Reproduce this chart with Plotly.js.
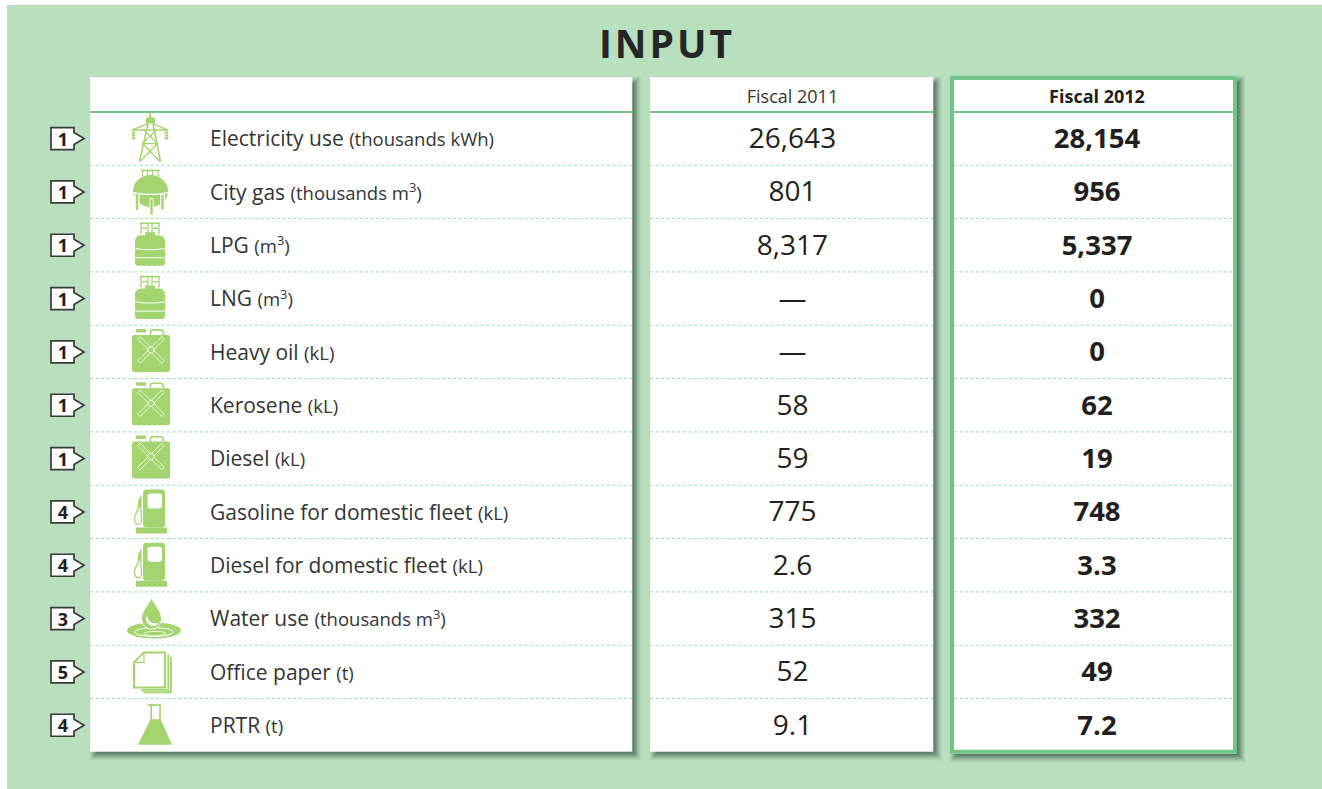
<!DOCTYPE html>
<html><head><meta charset="utf-8">
<script src="https://cdn.plot.ly/plotly-3.0.1.min.js"></script>
<style>html,body{margin:0;padding:0;background:#fff;overflow:hidden}.gtitle{letter-spacing:3px}</style>
</head><body><div id="chart" style="width:1322px;height:789px"></div>
<script>
const categories = ['Electricity use','City gas','LPG','LNG','Heavy oil','Kerosene','Diesel','Gasoline for domestic fleet','Diesel for domestic fleet','Water use','Office paper','PRTR'];
const units = ['(thousands kWh)','(thousands m<sup>3</sup>)','(m<sup>3</sup>)','(m<sup>3</sup>)','(kL)','(kL)','(kL)','(kL)','(kL)','(thousands m<sup>3</sup>)','(t)','(t)'];
const fiscal2011 = ['26,643','801','8,317','—','—','58','59','775','2.6','315','52','9.1'];
const fiscal2012 = ['28,154','956','5,337','0','0','62','19','748','3.3','332','49','7.2'];
const badges = ['1','1','1','1','1','1','1','4','4','3','5','4'];
const icons = ['pylon','sphere','cylinder','cylinder','can','can','can','pump','pump','water','paper','flask'];
const headers = ['Fiscal 2011','Fiscal 2012'];

const GREEN='#a4d46e', BORDER='#72c589', BG='#b8dfbe', INK='#333436', DARK='#231f20';
const FONT='"Open Sans", "Noto Sans", sans-serif';
const rowY = i => 138.6 + 53.33*i;

const circ=(x,y,rx,ry)=>{const k=.5523;ry=ry===undefined?rx:ry;
 return `M${x-rx},${y} C${x-rx},${y-k*ry} ${x-k*rx},${y-ry} ${x},${y-ry} C${x+k*rx},${y-ry} ${x+rx},${y-k*ry} ${x+rx},${y} C${x+rx},${y+k*ry} ${x+k*rx},${y+ry} ${x},${y+ry} C${x-k*rx},${y+ry} ${x-rx},${y+k*ry} ${x-rx},${y} Z`;};
const rrect=(a,b,c,d,r)=>`M${a+r},${b} L${c-r},${b} C${c-r/2},${b} ${c},${b+r/2} ${c},${b+r} L${c},${d-r} C${c},${d-r/2} ${c-r/2},${d} ${c-r},${d} L${a+r},${d} C${a+r/2},${d} ${a},${d-r/2} ${a},${d-r} L${a},${b+r} C${a},${b+r/2} ${a+r/2},${b} ${a+r},${b} Z`;
const bar=(x0,y0,x1,y1,w)=>{const dx=x1-x0,dy=y1-y0,l=Math.hypot(dx,dy),nx=-dy/l*w/2,ny=dx/l*w/2;
 return `M${x0+nx},${y0+ny} L${x1+nx},${y1+ny} L${x1-nx},${y1-ny} L${x0-nx},${y0-ny} Z`;};
const F=(d,c)=>({d,fill:c||GREEN});
const S=(d,w,c)=>({d,stroke:c||GREEN,w:w||1.5});
const FS=(d,fill,stroke,w)=>({d,fill,stroke,w});

const ICONS={
 pylon:[
  S('M0,-25 L0,-20',2), F(rrect(-4,-21,5,-15,.5)),
  S('M-2,-15 L-10.5,23 M3,-15 L10.5,23',1.6),
  S('M-18,-8.5 L18,-8.5 M-18,-8.5 L-2,-15 M18,-8.5 L3,-15',1.5),
  S('M-6,-8.5 L7.5,5 M6.5,-8.5 L-7.5,5 M-7.5,5 L10,23 M7.5,5 L-10,23 M-7.5,5 L7.5,5',1.4),
  S('M-16.5,-7 L-16.5,1 M16.5,-7 L16.5,1',3.4), S('M-18.5,-4.6 L-14.5,-4.6 M-18.5,-1.8 L-14.5,-1.8 M14.5,-4.6 L18.5,-4.6 M14.5,-1.8 L18.5,-1.8',.8,'#fff')],
 sphere:[
  S('M-9,-21.5 L10,-21.5',1.5), S('M-7.5,-21 L-7.5,-16 M-2.5,-21 L-2.5,-16 M2.5,-21 L2.5,-16 M8,-21 L8,-16',1.2),
  F(circ(.5,-1,17.5,16)),
  S('M-17,.5 C-9,3 10,3 18,.5',1.2,'#fff'),
  F(rrect(-15.5,1,-10.5,18.5,1),'#fff'),F(rrect(-.5,6,3.5,23,1),'#fff'),F(rrect(10,2,15,18,1),'#fff'),
  F(rrect(-14.2,2,-11.8,18,.5)),F(rrect(.3,7,2.7,22.5,.5)),F(rrect(11.3,3,13.7,17.5,.5))],
 cylinder:[
  S('M-10,-22 L10,-22',1.6), S('M-9,-22 L-9,-11 M9,-22 L9,-11 M-2,-22 L-2,-11 M2,-22 L2,-11',1.3), S('M-8,-17 L-3,-17 M3,-17 L8,-17',1.3),
  F(rrect(-5,-13,5,-9,.5)),
  F('M-9,-10 L9,-10 C13,-10 15,-7 15,-4 L15,17 C15,19 14,20.5 12,20.5 L-12,20.5 C-14,20.5 -15,19 -15,17 L-15,-4 C-15,-7 -13,-10 -9,-10 Z'),
  S('M-15,3 C-8,5 8,5 15,3',1,'#fff'), S('M-15,12.5 L15,12.5',1,'#fff')],
 can:[
  F(rrect(-14,-23,-4,-19.5,.3)), S('M.5,-17 L.5,-20 C.5,-21.5 1.5,-22 3,-22 L10,-22 C12,-22 13.5,-20.5 13.5,-18 L13.5,-17',1.6),
  F(rrect(-18,-17,20,20,2)),
  S(bar(-11,-14,13,10,3.6)+' '+bar(13,-14,-11,10,3.6),.8,'#fff'),
  FS(circ(1,-2,3),GREEN,'#fff',.9)],
 pump:[
  F(rrect(-7,-22.5,15,15.5,3)), F(rrect(-2.5,-18.5,12,-3.5,2.5),'#fff'),
  F(rrect(-14,15.5,17,21.5,0)),
  S('M-9.5,-8 C-11,-3 -15.5,2 -15.5,6.5 C-15.5,10 -14,12.5 -11.5,12.5 C-9,12.5 -8,10 -8.5,6 C-9,2 -9.5,-2 -9,-8',1.3),
  F('M-8.5,-17 L-8.5,-8 L-12.5,-4 C-12.5,-8 -12,-13 -8.5,-17 Z')],
 water:[
  F(circ(4,12,27,8)), S(circ(4,13.5,19,4.4),1,'#fff'), S(circ(5,15,11,2.2),.8,'#fff'),
  FS('M1.5,-21 C3.5,-15 11.5,-8 11.5,0 C11.5,6 7,10.5 1.5,10.5 C-4,10.5 -8.5,6 -8.5,0 C-8.5,-8 -.5,-15 1.5,-21 Z',GREEN,'#fff',1),
  F('M-4,-.5 C-4,5 0,7.5 3,7.5 C6,7.5 8,6 9,3.5 C6,6 1,5 -1,2 C-2,.5 -2.5,-1 -3,-2.5 Z','#fff')],
 paper:[
  S('M-9,18 L18.2,18 L18.2,-18',1.6),
  S('M-6.8,20.4 L20.8,20.4 L20.8,-15',2),
  FS('M-6,-19.5 L15,-19.5 L15,15.5 L-16,15.5 L-16,-9.5 Z','#fff',GREEN,2),
  S('M-6,-19.5 L-6,-9.5 L-16,-9.5',1.2)],
 flask:[
  S('M-2,-20.2 L11,-20.2',1.8), S('M1.2,-20 L1.2,-4 M10,-20 L10,-4',1.6),
  F('M.5,-6 L10.7,-6 L22,19.6 L-12,19.6 Z')]
};
const shift=(d,cx,cy)=>d.replace(/(-?[\d.]+(?:e-?\d+)?),\s*(-?[\d.]+(?:e-?\d+)?)/g,(m,a,b)=>`${(+a+cx).toFixed(2)},${(+b+cy).toFixed(2)}`);

const shapes=[];
const rect=(x0,y0,x1,y1,fill,line)=>shapes.push({type:'rect',xref:'x',yref:'y',x0,y0,x1,y1,fillcolor:fill,line:line||{width:0},layer:'below'});
const hline=(x0,x1,y,color,w,dash)=>shapes.push({type:'line',xref:'x',yref:'y',x0,x1,y0:y,y1:y,line:{color,width:w,dash:dash||'solid'},layer:'below'});

rect(7,5,1322,789,BG);
const panels=[[90,77,632.3,751.7],[650,77,933.3,751.7],[950,76,1237,753.7]];
panels.forEach(p=>{
 for(let d=5;d>=-4;d--) rect(p[0]+4-d,p[1]+4-d,p[2]+4+d,p[3]+4+d,`rgba(25,55,40,${(0.03+0.016*(5-d)).toFixed(3)})`);
 rect(p[0],p[1],p[2],p[3],'#fff');
});
rect(952,78,1235,751.7,'#fff',{color:BORDER,width:4});

const spans=[[90,632.3],[650,933.3],[954,1233]];
spans.forEach(s=>{
 hline(s[0],s[1],112,BORDER,2);
 for(let i=0;i<categories.length-1;i++) hline(s[0],s[1],rowY(i)+26.67,'#9adcb0',1,'3px,2.5px');
});

categories.forEach((c,i)=>{
 const y=rowY(i);
 shapes.push({type:'path',xref:'x',yref:'y',layer:'below',fillcolor:'#fff',line:{color:'#3a3a3a',width:1.7},
  path:shift('M-12,-11 L11,-11 L11,-6 L21,0 L11,6 L11,11 L-12,11 Z',63,y)});
 ICONS[icons[i]].forEach(p=>{
  shapes.push({type:'path',xref:'x',yref:'y',layer:'below',path:shift(p.d,150,y),
   fillcolor:p.fill||'rgba(0,0,0,0)',line:p.stroke?{color:p.stroke,width:p.w}:{width:0}});
 });
});

const textTrace=(x,y,text,font,pos,axis)=>({type:'scatter',mode:'text',x,y,text,textposition:pos||'middle center',
 textfont:font,yaxis:axis||'y2',xaxis:'x',hoverinfo:'skip',showlegend:false,cliponaxis:false});
const col=v=>categories.map(()=>v);
const labels=categories.map((c,i)=>`${c} <span style="font-size:18.5px">${units[i]}</span>`);

const data=[
 textTrace(col(63),categories,badges,{family:FONT,size:18,color:DARK,weight:700}),
 textTrace(col(210),categories,labels,{family:FONT,size:21,color:INK},'middle right'),
 textTrace(col(792.5),categories,fiscal2011,{family:FONT,size:28,color:DARK,weight:400}),
 textTrace(col(1097),categories,fiscal2012,{family:FONT,size:27.5,color:DARK,weight:700}),
 textTrace([792.5],[98],[headers[0]],{family:FONT,size:18,color:INK},'middle center','y'),
 textTrace([1097],[98],[headers[1]],{family:FONT,size:18,color:DARK,weight:700},'middle center','y')
];

const textOffset=2.5;
const layout={
 width:1322,height:789,margin:{l:0,r:0,t:0,b:0,pad:0},autosize:false,paper_bgcolor:'#fff',plot_bgcolor:'rgba(0,0,0,0)',
 title:{text:'INPUT',x:667/1322,xref:'paper',xanchor:'center',y:1-44/789,yref:'paper',yanchor:'middle',font:{family:FONT,size:39,color:'#262626',weight:700}},
 xaxis:{range:[0,1322],visible:false,fixedrange:true},
 yaxis:{range:[789,0],visible:false,fixedrange:true},
 yaxis2:{type:'category',categoryorder:'array',categoryarray:categories,overlaying:'y',visible:false,fixedrange:true,
  range:[(789-138.6-textOffset)/53.33,(0-138.6-textOffset)/53.33]},
 showlegend:false,hovermode:false,shapes
};
Plotly.newPlot('chart',data,layout,{displayModeBar:false,staticPlot:true});
</script></body></html>
